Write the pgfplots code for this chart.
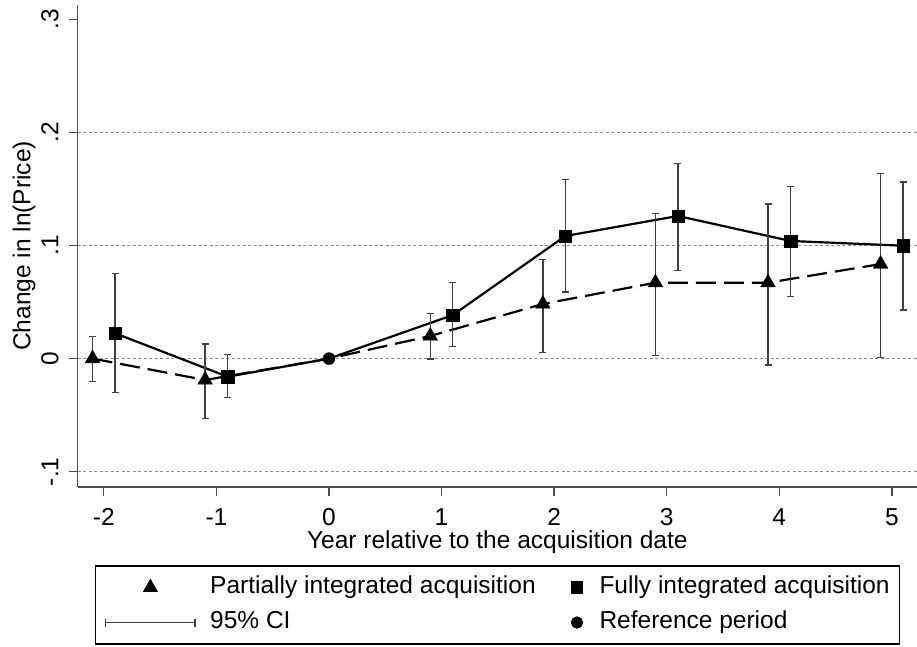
\documentclass[border=0pt]{standalone}
\usepackage{fontspec}
\setmainfont{Liberation Sans}
\usepackage{pgfplots}
\usepackage{pgfplotstable}
\pgfplotsset{compat=1.18}
\newcommand\chf{\fontsize{24.5pt}{29pt}\selectfont}

\pgfplotstableread{
x y lo hi
-2.1 0.0000 -0.0204 0.0194
-1.1 -0.0189 -0.0528 0.0129
0 0 0 0
0.9 0.0200 -0.0004 0.0400
1.9 0.0483 0.0056 0.0878
2.9 0.0671 0.0027 0.1285
3.9 0.0671 -0.0057 0.1367
4.9 0.0836 0.0011 0.1638
}\partialtab

\pgfplotstableread{
x y lo hi
-1.9 0.0224 -0.0302 0.0754
-0.9 -0.0160 -0.0346 0.0038
0 0 0 0
1.1 0.0385 0.0105 0.0675
2.1 0.1084 0.0589 0.1585
3.1 0.1261 0.0781 0.1727
4.1 0.1040 0.0547 0.1523
5.1 0.0998 0.0430 0.1561
}\fulltab

\begin{document}
\begin{tikzpicture}
\begin{axis}[
  name=ax, at={(0,0)}, anchor=south west,
  scale only axis, width=839.3pt, height=482pt,
  xmin=-2.232, xmax=5.2234, ymin=-0.1135, ymax=0.3126,
  axis lines*=left,
  axis line style={line width=1.5pt, black!70},
  tick align=outside, major tick length=9pt,
  tick style={line width=1.3pt, black!70},
  xtick={-2,-1,0,1,2,3,4,5}, xticklabels={-2,-1,0,1,2,3,4,5},
  ytick={-0.1,0,0.1,0.2,0.3}, yticklabels={-.1,0,.1,.2,.3},
  xticklabel style={font=\chf, anchor=base, inner sep=0pt},
  xticklabel shift=29pt,
  yticklabel style={font=\chf, xshift=-10.4pt, rotate=90, anchor=base, inner sep=0pt},
  yticklabel shift=0pt,
  extra y ticks={-0.1,0,0.1,0.2}, extra y tick labels={},
  extra y tick style={grid=major, major tick length=0pt},
  major grid style={black!45, line width=1pt, dash pattern=on 3pt off 2.5pt},
  xlabel={Year relative to the acquisition date},
  xlabel style={font=\chf, at={(axis description cs:0.5,-0.12655)}, anchor=base, inner sep=0pt},
  ylabel={Change in ln(Price)},
  ylabel style={font=\chf, at={(axis description cs:-0.05624,0.5)}, anchor=base, inner sep=0pt},
  legend columns=2,
  legend cell align=left,
  legend style={at={(0.5,-0.1639)}, anchor=north, draw=black, line width=1.3pt,
    inner xsep=9.7pt, inner ysep=9.5pt, outer sep=0pt, font=\chf, row sep=11pt,
    nodes={inner sep=0pt, text height=18pt, text depth=6pt},
    /tikz/every odd column/.append style={column sep=14.5pt},
    /tikz/every even column/.append style={column sep=33.3pt}},
  clip=false,
]
% connecting lines (through the reference period)
\addplot[forget plot, black, line width=2.2pt, line join=round, dash pattern=on 20pt off 8pt] table[x=x,y=y] {\partialtab};
\addplot[forget plot, black, line width=2.2pt, line join=round] table[x=x,y=y] {\fulltab};
% markers with 95% CI
\addplot[forget plot, only marks, mark=triangle*, mark size=8.5pt, black,
  skip coords between index={2}{3},
  error bars/.cd, y dir=both, y explicit,
  error bar style={line width=1.3pt, black!75},
  error mark options={line width=1.3pt, black!75, mark size=3.5pt, rotate=90}]
  table[x=x, y=y, y error plus expr=\thisrow{hi}-\thisrow{y}, y error minus expr=\thisrow{y}-\thisrow{lo}] {\partialtab};
\addplot[forget plot, only marks, mark=square*, mark size=6.2pt, black,
  skip coords between index={2}{3},
  error bars/.cd, y dir=both, y explicit,
  error bar style={line width=1.3pt, black!75},
  error mark options={line width=1.3pt, black!75, mark size=3.5pt, rotate=90}]
  table[x=x, y=y, y error plus expr=\thisrow{hi}-\thisrow{y}, y error minus expr=\thisrow{y}-\thisrow{lo}] {\fulltab};
% reference period
\addplot[forget plot, only marks, mark=*, mark size=6pt, black] coordinates {(0,0)};

\addlegendimage{legend image code/.code={\path[draw=none,fill=none] (0pt,-6pt) rectangle (89.3pt,6pt); \path[fill=black, draw=none, mark=triangle*, mark size=7.5pt, only marks] plot coordinates {(44.65pt,0pt)};}}
\addlegendentry{Partially integrated acquisition}
\addlegendimage{legend image code/.code={\path[draw=none,fill=none] (-8pt,-6pt) rectangle (8pt,6pt); \path[fill=black, draw=none, mark=square*, mark size=5.5pt, only marks] plot coordinates {(0pt,0pt)};}}
\addlegendentry{Fully integrated acquisition}
\addlegendimage{legend image code/.code={\path[draw=none,fill=none] (0pt,-6pt) rectangle (89.3pt,6pt); \draw[black!75, line width=1.3pt] (0pt,0pt) -- (89.3pt,0pt) (0pt,-4pt) -- (0pt,4pt) (89.3pt,-4pt) -- (89.3pt,4pt);}}
\addlegendentry{95\% CI}
\addlegendimage{legend image code/.code={\path[draw=none,fill=none] (-8pt,-6pt) rectangle (8pt,6pt); \path[fill=black, draw=none, mark=*, mark size=5.5pt, only marks] plot coordinates {(0pt,0pt)};}}
\addlegendentry{Reference period}
\end{axis}
\pgfresetboundingbox
\path[use as bounding box] (-77.7pt,-159pt) rectangle (839.3pt,487pt);
\end{tikzpicture}
\end{document}
